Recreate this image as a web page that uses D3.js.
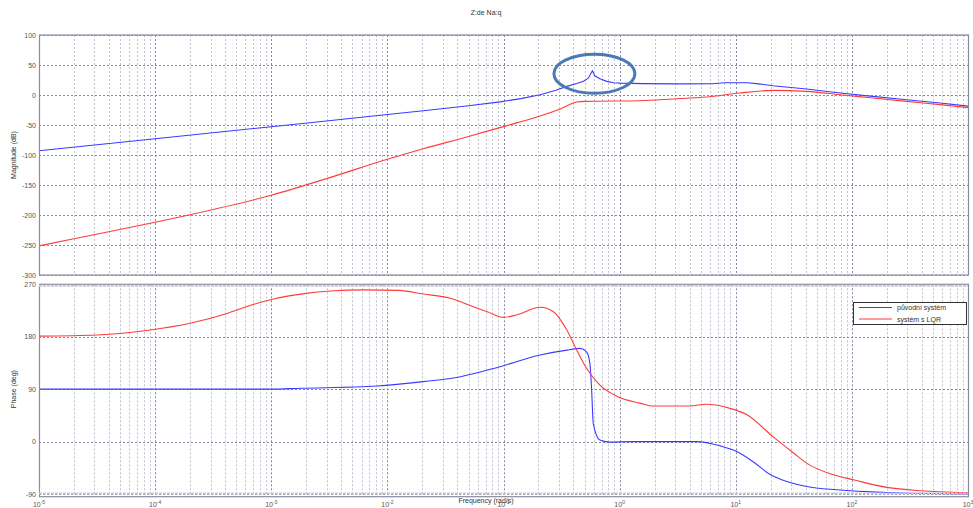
<!DOCTYPE html>
<html><head><meta charset="utf-8">
<script src="https://cdn.jsdelivr.net/npm/d3@7"></script>
<style>
html,body{margin:0;padding:0;background:#fff;}
svg{display:block;font-family:"Liberation Sans",Arial,sans-serif;}
</style></head>
<body>
<script>
// ---- data ----
const title = "Z:de Na:q";
const seriesNames = ["původní systém", "systém s LQR"];
const xTickExp = [-5, -4, -3, -2, -1, 0, 1, 2, 3];
const magTicks = [100, 50, 0, -50, -100, -150, -200, -250, -300];
const phaseTicks = [270, 180, 90, 0, -90];

const blueMagW  = [1e-5, 1e-4, 1e-3, 1.78e-3, 0.01, 0.0204, 0.0501, 0.0933, 0.141, 0.2065, 0.282, 0.351, 0.427, 0.488, 0.537, 0.583, 0.610, 0.676, 0.776, 0.891, 1.01, 1.585, 3.16, 6.31, 7.94, 12.6, 15.8, 20.9, 40.7, 79.4, 151, 295, 575, 1000];
const blueMagDb = [-92.8, -72.8, -52.8, -47.9, -32.5, -26.2, -18, -11.5, -6, 0.5, 8, 14.4, 19, 23, 28, 40.5, 32, 27, 22.7, 20.5, 19.8, 19, 18.5, 18.8, 20.3, 20.3, 18.5, 15.5, 10, 3.3, -2.3, -7.8, -13.3, -18.5];

const redMagW  = [1e-5, 2.0e-5, 1e-4, 2.0e-4, 1e-3, 3.24e-3, 0.01, 0.0204, 0.0483, 0.107, 0.182, 0.309, 0.427, 0.501, 1.5, 2.88, 5.62, 10.7, 20.9, 40.7, 79.4, 151, 295, 575, 1000];
const redMagDb = [-251.5, -239.5, -212, -199.5, -167, -137.3, -107, -89.5, -70, -51, -38.3, -23.3, -11.7, -10.6, -9.5, -6.7, -3.4, 3.3, 7.7, 6, 0.5, -5, -10.6, -16, -21];

const bluePhW   = [1e-5, 1e-3, 1.78e-3, 8.13e-3, 0.0204, 0.0427, 0.0933, 0.2065, 0.351, 0.457, 0.519, 0.555, 0.574, 0.593, 0.676, 0.832, 1.26, 4.62, 7.35, 10.2, 14.1, 19.95, 27.5, 40.7, 74.1, 200, 1000];
const bluePhDeg = [90, 90, 91.5, 95.4, 103, 111.4, 128.6, 148.6, 157, 160, 154, 134, 88.5, 31, 2.7, -1, 0, 0, -7.4, -17, -34.5, -57, -68.5, -77, -82.8, -87.5, -90];

const redPhW   = [1e-5, 3.16e-5, 9.12e-5, 2.0e-4, 4.17e-4, 7.08e-4, 1.05e-3, 2.0e-3, 3.24e-3, 6.31e-3, 0.0126, 0.0204, 0.0347, 0.055, 0.0724, 0.1, 0.129, 0.2065, 0.269, 0.351, 0.427, 0.519, 0.676, 0.944, 1.5, 1.95, 3.8, 5.62, 8.91, 12.6, 20.9, 31.6, 40.7, 69.2, 105, 200, 389, 1000];
const redPhDeg = [181, 183, 191.5, 203, 220, 235.7, 244.8, 254.5, 258.5, 260.5, 259.5, 253.3, 246, 231.6, 223, 213.3, 217.3, 230.5, 223, 191.5, 157, 125.8, 97, 78, 66, 61, 61, 64, 57, 45.6, 8.4, -20, -37, -57, -66, -78.6, -84.4, -87.7];

// ---- layout ----
const W = 973, H = 508;
const L = 39, R = 968;
const magTop = 35, magBot = 275;
const phTop = 284.3, phBot = 496.7;
const blue = "#3a3aff", red = "#ff3a3a";
const frameCol = "#8a8aa0", gridCol = "#9a9ab0", txtCol = "#555";

const svg = d3.select("body").append("svg").attr("width", W).attr("height", H);

const x = d3.scaleLog().domain([1e-5, 1e3]).range([L, R]);
const yMag = d3.scaleLinear().domain([-300, 100]).range([magBot, magTop]);
const yPh = d3.scaleLinear().domain([-94.6, 270]).range([phBot, phTop]);

function minorFreqs() {
  const arr = [];
  for (let e = -5; e < 3; e++) for (let k = 2; k <= 9; k++) arr.push(k * Math.pow(10, e));
  return arr;
}

function panel(y, top, bot, ticks, data) {
  const g = svg.append("g");
  g.selectAll(".mv").data(minorFreqs()).enter().append("line")
    .attr("x1", d => Math.round(x(d)) + 0.5).attr("x2", d => Math.round(x(d)) + 0.5)
    .attr("y1", top).attr("y2", bot)
    .attr("stroke", gridCol).attr("stroke-opacity", 0.6).attr("stroke-width", 1).attr("stroke-dasharray", "2,2");
  g.selectAll(".Mv").data(xTickExp.slice(1, -1)).enter().append("line")
    .attr("x1", d => Math.round(x(Math.pow(10, d))) + 0.5).attr("x2", d => Math.round(x(Math.pow(10, d))) + 0.5)
    .attr("y1", top).attr("y2", bot)
    .attr("stroke", "#8686a0").attr("stroke-width", 1).attr("stroke-dasharray", "2,2");
  g.selectAll(".h").data(ticks).enter().append("line")
    .attr("x1", L).attr("x2", R)
    .attr("y1", d => Math.round(y(d)) + 0.5).attr("y2", d => Math.round(y(d)) + 0.5)
    .attr("stroke", "#8686a0").attr("stroke-width", 1).attr("stroke-dasharray", "2,2");
  g.selectAll(".yl").data(ticks).enter().append("text")
    .attr("x", L - 3).attr("y", d => y(d) + 2.5)
    .attr("text-anchor", "end").attr("font-size", 7).attr("fill", txtCol)
    .text(d => d);
  data.forEach(s => {
    const pts = s.w.map((w, i) => [w, s.v[i]]);
    g.append("path").datum(pts)
      .attr("d", d3.line().x(d => x(d[0])).y(d => y(d[1])).curve(s.curve))
      .attr("fill", "none").attr("stroke", s.color).attr("stroke-width", 1.1);
  });
  g.append("rect").attr("x", L + 0.5).attr("y", top).attr("width", R - L).attr("height", bot - top)
    .attr("fill", "none").attr("stroke", frameCol).attr("stroke-width", 1.2);
  return g;
}

panel(yMag, magTop, magBot, magTicks, [
  {w: blueMagW, v: blueMagDb, color: blue, curve: d3.curveLinear},
  {w: redMagW, v: redMagDb, color: red, curve: d3.curveMonotoneX}
]);
panel(yPh, phTop, phBot, phaseTicks, [
  {w: bluePhW, v: bluePhDeg, color: blue, curve: d3.curveMonotoneX},
  {w: redPhW, v: redPhDeg, color: red, curve: d3.curveMonotoneX}
]);
[270, -90].forEach(v => {
  svg.append("line").attr("x1", L).attr("x2", R).attr("y1", yPh(v) + (v > 0 ? 1.5 : -0.5)).attr("y2", yPh(v) + (v > 0 ? 1.5 : -0.5))
    .attr("stroke", "#c8c8d4").attr("stroke-width", 2).attr("stroke-dasharray", "3,1");
});

const xl = svg.append("g");
xTickExp.forEach(e => {
  const t = xl.append("text").attr("x", x(Math.pow(10, e))).attr("y", 507)
    .attr("text-anchor", "middle").attr("font-size", 7).attr("fill", txtCol);
  t.append("tspan").text("10");
  t.append("tspan").attr("dy", -3.5).attr("font-size", 5).text(e);
});

svg.append("text").attr("x", 486).attr("y", 503).attr("text-anchor", "middle")
  .attr("font-size", 7).attr("fill", "#333").text("Frequency (rad/s)");
svg.append("text").attr("transform", `translate(16,${(magTop + magBot) / 2}) rotate(-90)`)
  .attr("text-anchor", "middle").attr("font-size", 7).attr("fill", "#333").text("Magnitude (dB)");
svg.append("text").attr("transform", `translate(16,${yPh(90)}) rotate(-90)`)
  .attr("text-anchor", "middle").attr("font-size", 7).attr("fill", "#333").text("Phase (deg)");
svg.append("text").attr("x", 486).attr("y", 15).attr("text-anchor", "middle")
  .attr("font-size", 7).attr("fill", "#333").text(title);

const lg = svg.append("g");
lg.append("rect").attr("x", 853.5).attr("y", 302.5).attr("width", 113).attr("height", 22)
  .attr("fill", "#fff").attr("stroke", "#333").attr("stroke-width", 1);
[blue, red].forEach((c, i) => {
  const yy = 307.5 + i * 11.5;
  lg.append("line").attr("x1", 859).attr("x2", 892).attr("y1", yy).attr("y2", yy).attr("stroke", c).attr("stroke-width", 1.2);
  lg.append("text").attr("x", 897).attr("y", yy + 2.5).attr("font-size", 7).attr("fill", "#333").text(seriesNames[i]);
});

const peakIdx = blueMagDb.indexOf(d3.max(blueMagDb));
svg.append("ellipse").attr("cx", x(blueMagW[peakIdx]) + 2).attr("cy", yMag(blueMagDb[peakIdx]) + 3)
  .attr("rx", 40.5).attr("ry", 19.5)
  .attr("fill", "none").attr("stroke", "#4a7ab4").attr("stroke-width", 3);
</script>
</body></html>
